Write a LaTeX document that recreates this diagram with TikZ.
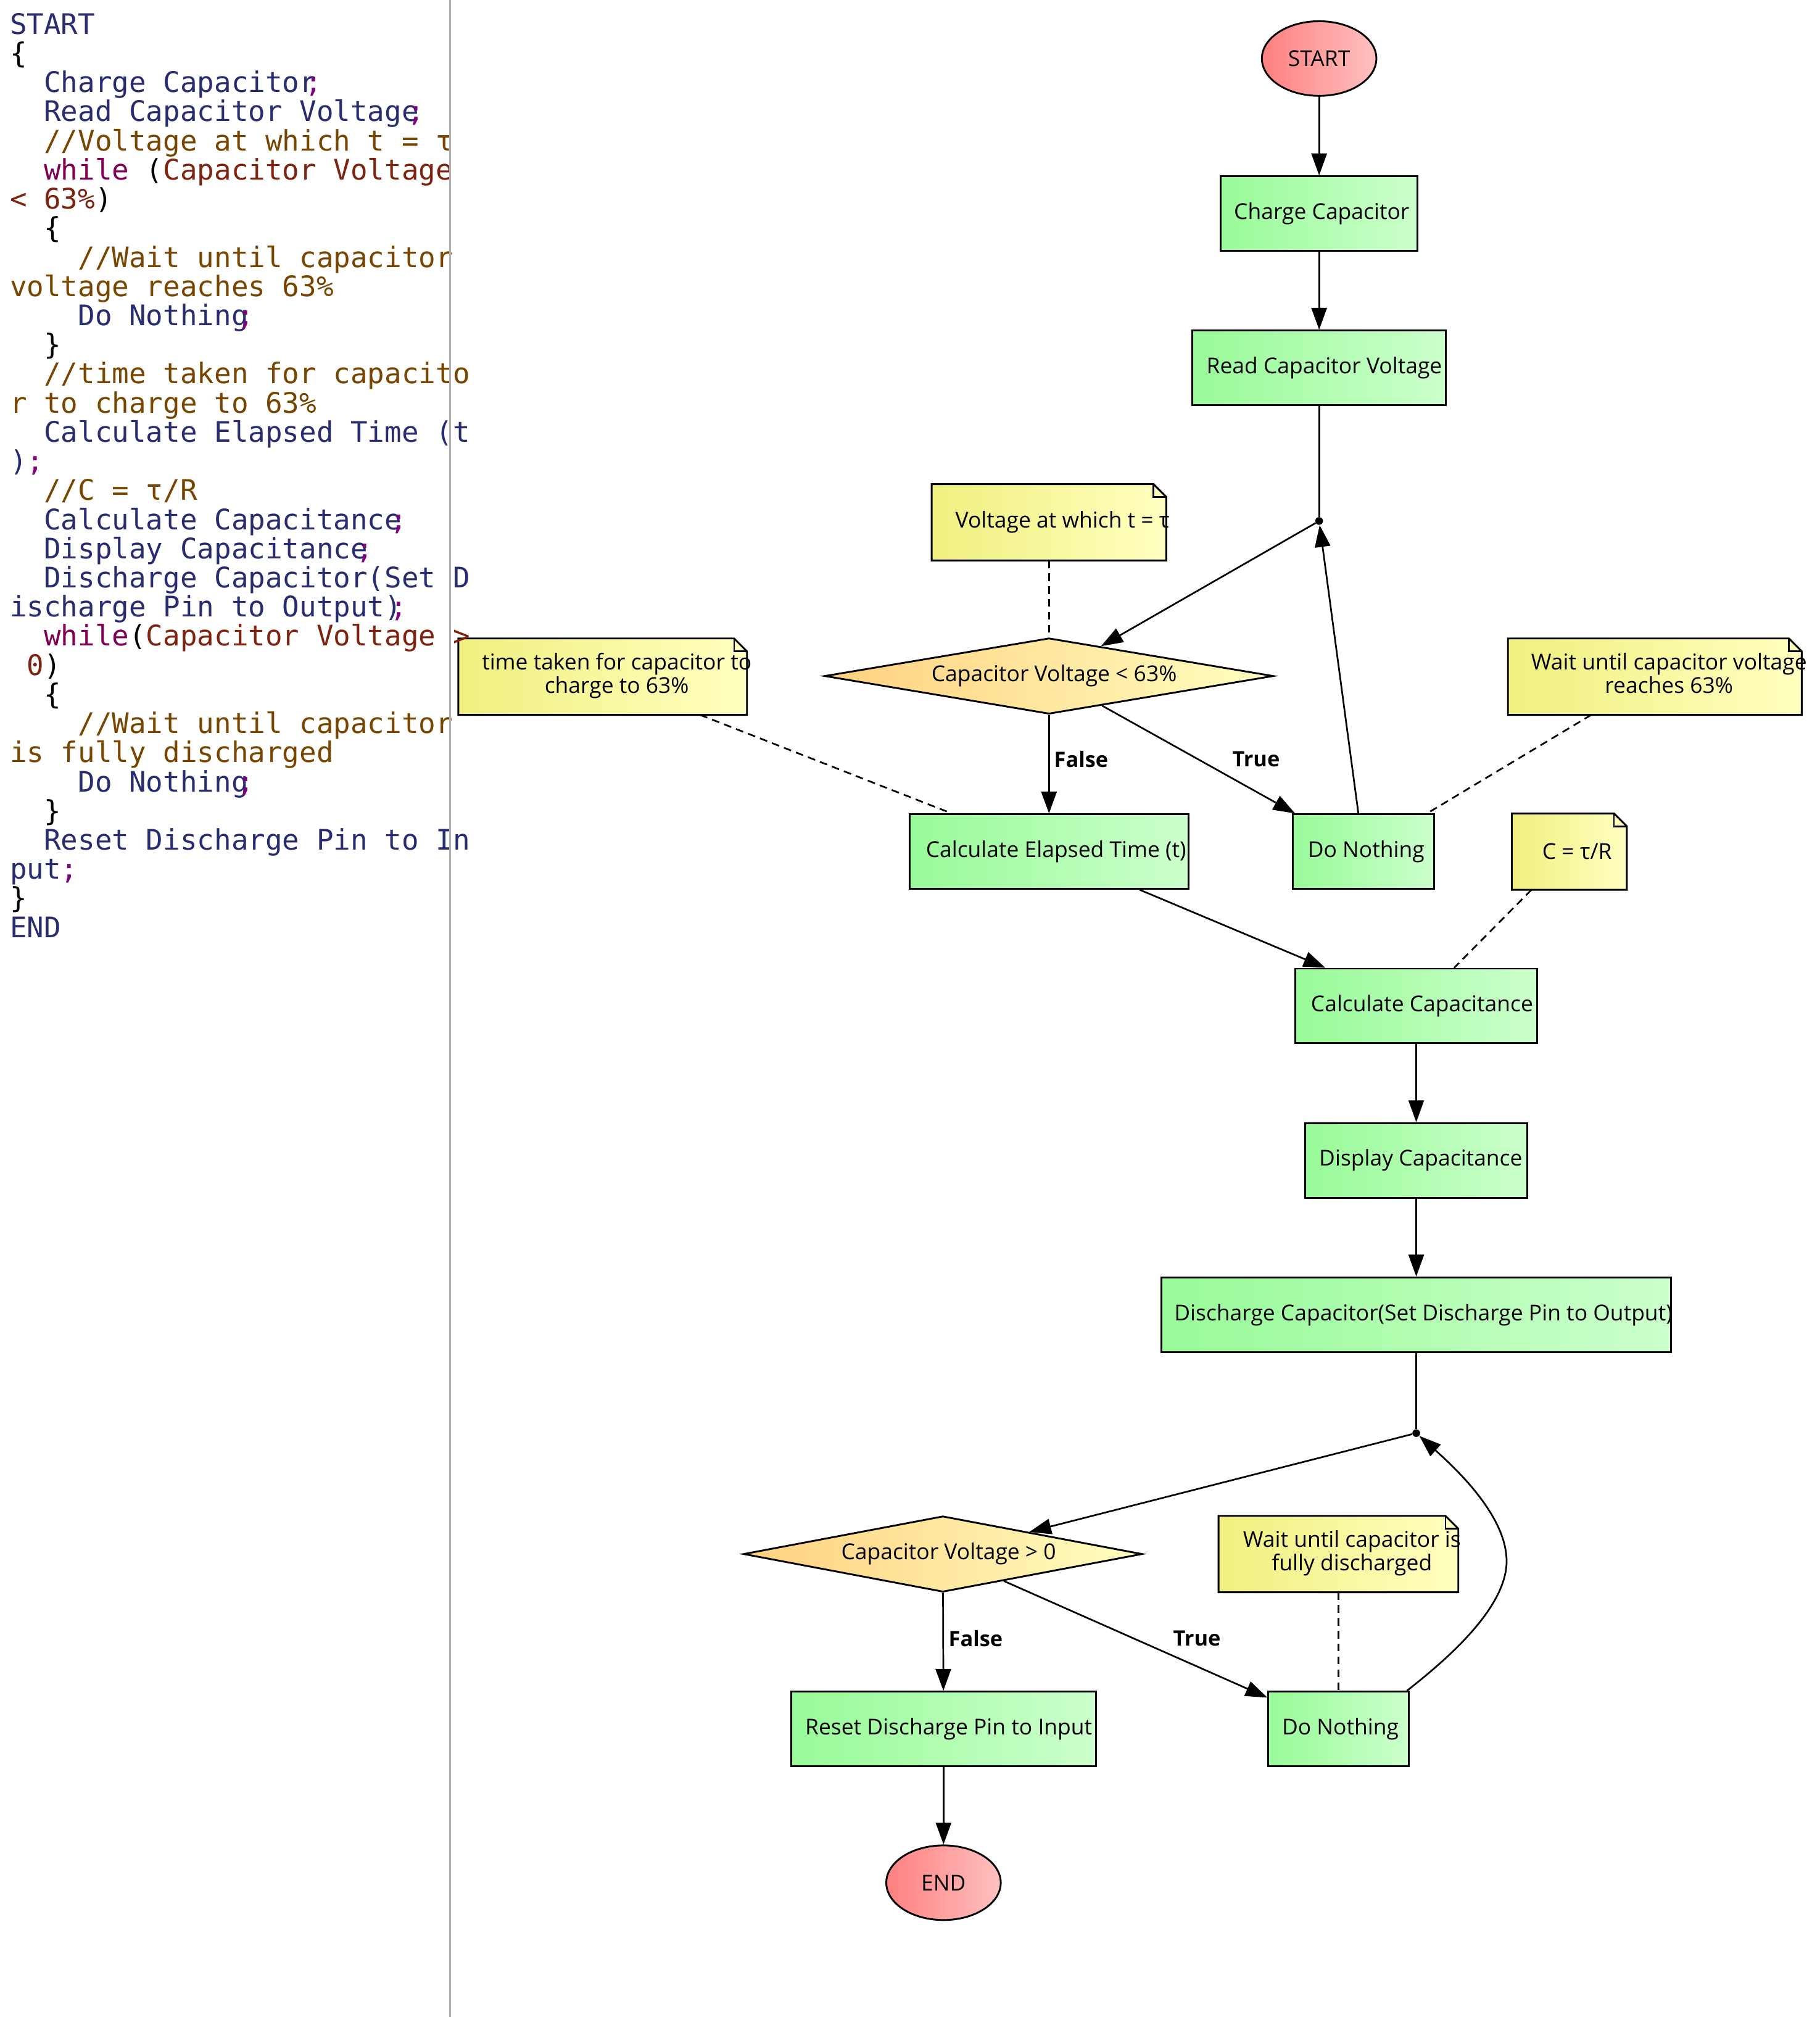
\documentclass[tikz,border=0pt]{standalone}
\usepackage{fontspec}
\setmainfont{Open Sans}
\newfontfamily\codefont{DejaVu Sans Mono}
\usetikzlibrary{shapes.geometric,arrows.meta,calc,backgrounds}

\definecolor{cnavy}{RGB}{40,44,112}
\definecolor{ccom}{RGB}{120,70,0}
\definecolor{ckey}{RGB}{127,0,85}
\definecolor{ccond}{RGB}{125,35,15}
\definecolor{csemi}{RGB}{128,0,128}
\definecolor{gL}{RGB}{152,251,152}
\definecolor{gR}{RGB}{204,255,204}
\definecolor{yL}{RGB}{240,240,128}
\definecolor{yR}{RGB}{255,255,192}
\definecolor{oL}{RGB}{255,208,128}
\definecolor{oR}{RGB}{255,255,192}
\definecolor{rL}{RGB}{255,128,128}
\definecolor{rR}{RGB}{255,192,192}
\definecolor{divgray}{RGB}{176,176,176}

\newcommand\CdN[1]{\textcolor{cnavy}{#1}}
\newcommand\CdC[1]{\textcolor{ccom}{#1}}
\newcommand\CdK[1]{\textcolor{ckey}{#1}}
\newcommand\CdR[1]{\textcolor{ccond}{#1}}
\newcommand\CdS{\kern-0.4em\textcolor{csemi}{;}}
\newcommand\CdT{\textcolor{csemi}{;}}
\newcommand\Tx[2]{\makebox[0pt]{\hspace*{#1pt}#2}}
\newcommand\Two[2]{\begin{tabular}{@{}c@{}}#1\\#2\end{tabular}}

\tikzset{
 basestyle/.style={line width=1.4pt, font=\fontsize{17pt}{18pt}\selectfont, inner sep=0pt},
 procbox/.style={basestyle, rectangle, draw, left color=gL, right color=gR, minimum height=58pt},
 term/.style={basestyle, ellipse, draw, left color=rL, right color=rR, minimum width=89pt, minimum height=58pt},
 decide/.style={basestyle, diamond, draw, left color=oL, right color=oR, minimum height=59pt},
 notebox/.style={basestyle, rectangle, minimum height=58pt},
 notefill/.style={line width=1.4pt, draw, left color=yL, right color=yR},
 junct/.style={circle, fill=black, inner sep=0pt, minimum size=6pt},
 flow/.style={line width=1.3pt, -{Triangle[length=17pt,width=12pt]}},
 plainline/.style={line width=1.3pt},
 anno/.style={line width=1.3pt, dash pattern=on 6pt off 4pt},
 lbl/.style={font=\bfseries\fontsize{16.5pt}{18pt}\selectfont, inner sep=0pt},
 divider/.style={draw=divgray, line width=1.3pt},
}

\begin{document}
\begin{tikzpicture}[x=1pt,y=-1pt]
\useasboundingbox (0,0) rectangle (1414.9,1567.9);

% code listing
\node[anchor=base west, inner sep=0pt] (code) at (7.5,26.5) {\codefont\fontsize{22pt}{22.65pt}\selectfont
\vtop{\baselineskip=22.65pt\lineskiplimit=-\maxdimen\lineskip=0pt
\hbox{\CdN{START}}
\hbox{\{}
\hbox{\ \ \CdN{Charge Capacitor}\CdS}
\hbox{\ \ \CdN{Read Capacitor Voltage}\CdS}
\hbox{\ \ \CdC{//Voltage at which t = τ}}
\hbox{\ \ \CdK{while} (\CdR{Capacitor Voltage}}
\hbox{\CdR{< 63\%})}
\hbox{\ \ \{}
\hbox{\ \ \ \ \CdC{//Wait until capacitor}}
\hbox{\CdC{voltage reaches 63\%}}
\hbox{\ \ \ \ \CdN{Do Nothing}\CdS}
\hbox{\ \ \}}
\hbox{\ \ \CdC{//time taken for capacito}}
\hbox{\CdC{r to charge to 63\%}}
\hbox{\ \ \CdN{Calculate Elapsed Time (t}}
\hbox{\CdN{)}\CdT}
\hbox{\ \ \CdC{//C = τ/R}}
\hbox{\ \ \CdN{Calculate Capacitance}\CdS}
\hbox{\ \ \CdN{Display Capacitance}\CdS}
\hbox{\ \ \CdN{Discharge Capacitor(Set D}}
\hbox{\CdN{ischarge Pin to Output)}\CdS}
\hbox{\ \ \CdK{while}(\CdR{Capacitor Voltage >}}
\hbox{\ \CdR{0})}
\hbox{\ \ \{}
\hbox{\ \ \ \ \CdC{//Wait until capacitor}}
\hbox{\CdC{is fully discharged}}
\hbox{\ \ \ \ \CdN{Do Nothing}\CdS}
\hbox{\ \ \}}
\hbox{\ \ \CdN{Reset Discharge Pin to In}}
\hbox{\CdN{put}\CdT}
\hbox{\}}
\hbox{\CdN{END}}
}};

\draw[divider] (350,0) -- (350,1568);

% flowchart nodes
\node[term] (start) at (1025.5,45.5) {START};
\node[procbox, minimum width=153pt] (charge) at (1025.5,166) {\Tx{4}{Charge Capacitor}};
\node[procbox, minimum width=197pt] (read) at (1025.5,286) {\Tx{8}{Read Capacitor Voltage}};
\node[junct] (j1) at (1025.5,405) {};
\node[notebox, minimum width=181pt] (n1) at (815.5,406) {\Tx{21}{Voltage at which t = τ}};
\node[decide, minimum width=349pt] (d1) at (815.5,525.5) {\Tx{8}{Capacitor Voltage < 63\%}};
\node[notebox, minimum width=223pt] (n2) at (468.5,526) {\Tx{22}{\Two{time taken for capacitor to}{charge to 63\%}}};
\node[notebox, minimum width=227pt] (n3) at (1286.5,526) {\Tx{22}{\Two{Wait until capacitor voltage}{reaches 63\%}}};
\node[procbox, minimum width=217pt] (calc) at (815.5,662) {\Tx{11}{Calculate Elapsed Time (t)}};
\node[procbox, minimum width=110pt] (do1) at (1060,662) {\Tx{4}{Do Nothing}};
\node[notebox, minimum width=88pt] (n4) at (1220,662) {\Tx{12}{C = τ/R}};
\node[procbox, minimum width=188pt] (ccap) at (1101,782) {\Tx{9}{Calculate Capacitance}};
\node[procbox, minimum width=173pt] (disp) at (1101,902) {\Tx{7}{Display Capacitance}};
\node[procbox, minimum width=396pt] (dis) at (1101,1022) {\Tx{11}{Discharge Capacitor(Set Discharge Pin to Output)}};
\node[junct] (j2) at (1101,1114) {};
\node[decide, minimum width=310pt] (d2) at (733,1208) {\Tx{9}{Capacitor Voltage > 0}};
\node[notebox, minimum width=185pt] (n5) at (1040.5,1208) {\Tx{21}{\Two{Wait until capacitor is}{fully discharged}}};
\node[procbox, minimum width=237pt] (reset) at (733.5,1344) {\Tx{8}{Reset Discharge Pin to Input}};
\node[procbox, minimum width=109pt] (do2) at (1040.5,1344) {\Tx{3}{Do Nothing}};
\node[term] (stop) at (733.5,1463.5) {END};

% note outlines (folded corner)
\begin{scope}[on background layer]
\fill[white] (0,0) rectangle (1414.9,1567.9);
\foreach \n in {n1,n2,n3,n4,n5}{
  \path[notefill] (\n.north west) -- ($(\n.north east)+(-10,0)$) -- ($(\n.north east)+(0,10)$) -- (\n.south east) -- (\n.south west) -- cycle;
  \draw[plainline] ($(\n.north east)+(-10,0)$) -- ($(\n.north east)+(-10,10)$) -- ($(\n.north east)+(0,10)$);
}
\end{scope}

% connectors
\draw[flow] (start) -- (charge);
\draw[flow] (charge) -- (read);
\draw[plainline] (read) -- (j1);
\draw[flow] (j1) -- (d1);
\draw[flow] (d1) -- (calc);
\draw[flow] (d1) -- (do1);
\draw[flow] (do1) -- (j1);
\draw[anno] (n1) -- (d1);
\draw[anno] (n2) -- (calc);
\draw[anno] (n3) -- (do1);
\draw[flow] (calc) -- (ccap);
\draw[anno] (n4) -- (ccap);
\draw[flow] (ccap) -- (disp);
\draw[flow] (disp) -- (dis);
\draw[plainline] (dis) -- (j2);
\draw[flow] (j2) -- (d2);
\draw[flow] (d2) -- (reset);
\draw[flow] (d2) -- (do2);
\draw[anno] (n5) -- (do2);
\draw[flow] (reset) -- (stop);
\draw[flow] ($(do2.north east)+(-2,0)$) .. controls (1130,1286) and (1175,1245) .. (1171,1209) .. controls (1168,1175) and (1130,1140) .. (j2);

% edge labels
\node[lbl] (lf1) at (840.5,590) {False};
\node[lbl] (lt1) at (976.5,590) {True};
\node[lbl] (lf2) at (758.5,1273.5) {False};
\node[lbl] (lt2) at (930.5,1273.5) {True};
\end{tikzpicture}
\end{document}
